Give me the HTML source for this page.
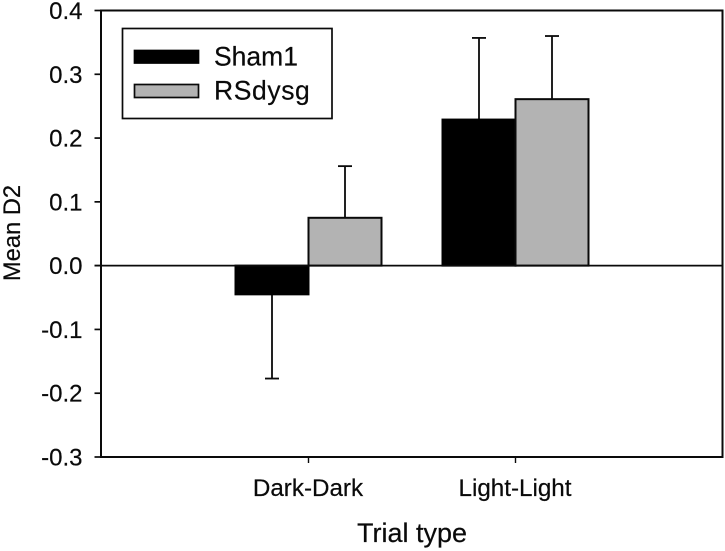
<!DOCTYPE html>
<html>
<head>
<meta charset="utf-8">
<style>
html,body{margin:0;padding:0;background:#fff;}
svg{display:block;}
text{font-family:"Liberation Sans",sans-serif;fill:#0a0a0a;stroke:#0a0a0a;stroke-width:0.2px;}
</style>
</head>
<body>
<svg id="chart" width="725" height="551" viewBox="0 0 725 551" xmlns="http://www.w3.org/2000/svg"></svg>
<script>
const categories = ["Dark-Dark", "Light-Light"];
const seriesNames = ["Sham1", "RSdysg"];
const sham1Values = [-0.045, 0.229];
const rsdysgValues = [0.075, 0.261];
const sham1Errors = [0.132, 0.128];
const rsdysgErrors = [0.081, 0.099];
const yTicks = [0.4, 0.3, 0.2, 0.1, 0.0, -0.1, -0.2, -0.3];
const yTickLabels = ["0.4", "0.3", "0.2", "0.1", "0.0", "-0.1", "-0.2", "-0.3"];

const svg = document.getElementById('chart');
const NS = 'http://www.w3.org/2000/svg';
const plot = {left: 101, right: 722.5, top: 10.5, bottom: 457};
const yMax = 0.4, yMin = -0.3;
const ink = '#0a0a0a';
const gray = '#b3b3b3';
const barWidth = 73;

function yScale(v) {
  return plot.top + (yMax - v) / (yMax - yMin) * (plot.bottom - plot.top);
}
function xScale(i) {
  return 308.5 + i * 207;
}
function make(tag, attrs) {
  const el = document.createElementNS(NS, tag);
  for (const k in attrs) el.setAttribute(k, attrs[k]);
  svg.appendChild(el);
  return el;
}

const frame = make('rect', {x: plot.left, y: plot.top, width: plot.right - plot.left, height: plot.bottom - plot.top, fill: '#fff', stroke: ink, 'stroke-width': 2});



yTicks.forEach(function (t, i) {
  const y = yScale(t);
  const tick = make('line', {x1: plot.left - 6.5, x2: plot.left, y1: y, y2: y, stroke: ink, 'stroke-width': 1.7});
  
  
  const label = make('text', {x: 82.5, y: y + 8.5, 'text-anchor': 'end', 'font-size': 24});
  label.textContent = yTickLabels[i];
  
  
});

function drawSeries(values, errors, offset, fill, stroke, name) {
  values.forEach(function (v, i) {
    const center = xScale(i) + offset * barWidth / 2;
    const y0 = yScale(0), yv = yScale(v);
    const tip = yScale(v + (v >= 0 ? errors[i] : -errors[i]));
    const stem = make('line', {x1: center, x2: center, y1: yv, y2: tip, stroke: ink, 'stroke-width': 1.8});
    
    
    const cap = make('line', {x1: center - 7, x2: center + 7, y1: tip, y2: tip, stroke: ink, 'stroke-width': 1.8});
    
    
    const bar = make('rect', {x: center - barWidth / 2, y: Math.min(y0, yv), width: barWidth, height: Math.abs(yv - y0), fill: fill, stroke: stroke, 'stroke-width': 2});
    
    
  });
}
drawSeries(sham1Values, sham1Errors, -1, '#000', '#000', 'sham1');
drawSeries(rsdysgValues, rsdysgErrors, 1, gray, ink, 'rsdysg');

const zero = make('line', {x1: plot.left - 6.5, x2: plot.right, y1: yScale(0), y2: yScale(0), stroke: ink, 'stroke-width': 1.7});



categories.forEach(function (c, i) {
  const x = xScale(i);
  const tick = make('line', {x1: x, x2: x, y1: plot.bottom, y2: plot.bottom + 6, stroke: ink, 'stroke-width': 1.4});
  
  
  const label = make('text', {x: x - 0.5, y: 496, 'text-anchor': 'middle', 'font-size': 24.2});
  label.textContent = c;
  
  
});

const xTitle = make('text', {x: 412, y: 542, 'text-anchor': 'middle', 'font-size': 27});
xTitle.textContent = 'Trial type';



const yTitle = make('text', {x: 0, y: 0, 'text-anchor': 'middle', 'font-size': 23.7, transform: 'translate(20 233) rotate(-90)'});
yTitle.textContent = 'Mean D2';



const legendBox = make('rect', {x: 122.5, y: 28.5, width: 209.5, height: 90, fill: '#fff', stroke: ink, 'stroke-width': 1.7});



const sw1 = make('rect', {x: 134.5, y: 50.5, width: 64, height: 12.5, fill: '#000', stroke: '#000', 'stroke-width': 1.7});


const lt1 = make('text', {x: 214, y: 65.5, 'font-size': 26.5});
lt1.textContent = seriesNames[0];



const sw2 = make('rect', {x: 134.5, y: 84.5, width: 64, height: 13, fill: gray, stroke: ink, 'stroke-width': 1.7});


const lt2 = make('text', {x: 214, y: 99.5, 'font-size': 26.5, 'letter-spacing': 0.6});
lt2.textContent = seriesNames[1];


</script>
</body>
</html>
